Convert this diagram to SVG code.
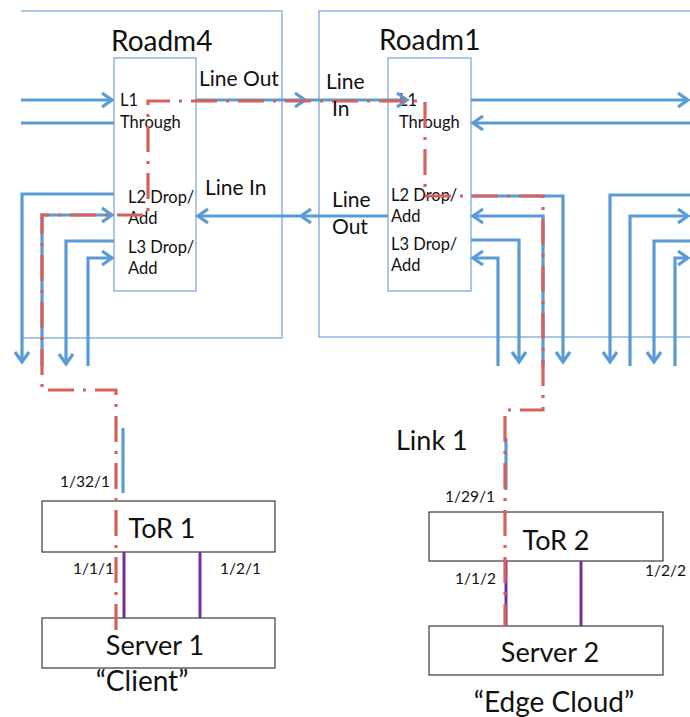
<svg xmlns="http://www.w3.org/2000/svg" width="690" height="717" viewBox="0 0 690 717">
  <style>
    .frame { fill: none; stroke: #8db3e2; stroke-width: 1.5; }
    .card { fill: none; stroke: #7ea8dc; stroke-width: 1.3; }
    .box { fill: #ffffff; stroke: #3a3a3a; stroke-width: 1.2; }
    .fiber { fill: none; stroke: #5b9bd5; stroke-width: 3.2; }
    .head { fill: none; stroke: #5b9bd5; stroke-width: 3.2; stroke-linejoin: miter; }
    .path { fill: none; stroke: #d6605a; stroke-width: 3.2; stroke-dasharray: 26 9 3 9; }
    .eth { fill: none; stroke: #7030a0; stroke-width: 3; }
    text { font-family: Lato, "Open Sans", "Liberation Sans", sans-serif; fill: #111; }
    .title { font-size: 28px; }
    .port { font-size: 21px; }
    .small { font-size: 16.5px; }
    .dev { font-size: 27px; text-anchor: middle; }
    .num { font-size: 15.5px; }
    .caption { font-size: 28px; text-anchor: middle; }
  </style>
  <defs>
    <marker id="arr" markerUnits="userSpaceOnUse" viewBox="-14 -10 16 20" markerWidth="16" markerHeight="20" refX="0" refY="0" orient="auto" overflow="visible">
      <path d="M-10,-7 L0,0 L-10,7" fill="none" stroke="#5b9bd5" stroke-width="3.2"/>
    </marker>
  </defs>

  <!-- ROADM chassis frames -->
  <g id="roadm4">
    <path class="frame" d="M21,11 H282 V338 H21"/>
    <rect class="card" x="114" y="58" width="82" height="233"/>
    <text class="title" x="111" y="51">Roadm4</text>
    <text class="small" x="120" y="106">L1</text>
    <text class="small" x="120" y="128">Through</text>
    <text class="small" x="128" y="203">L2 Drop/</text>
    <text class="small" x="128" y="224">Add</text>
    <text class="small" x="128" y="253">L3 Drop/</text>
    <text class="small" x="128" y="274">Add</text>
  </g>
  <g id="roadm1">
    <path class="frame" d="M692,11 H319 V337 H692"/>
    <rect class="card" x="388" y="58" width="83" height="233"/>
    <text class="title" x="379" y="50">Roadm1</text>
    <text class="small" x="399" y="106">L1</text>
    <text class="small" x="399" y="128">Through</text>
    <text class="small" x="391" y="201">L2 Drop/</text>
    <text class="small" x="391" y="222">Add</text>
    <text class="small" x="391" y="250">L3 Drop/</text>
    <text class="small" x="391" y="271">Add</text>
  </g>

  <!-- ToR switches and servers -->
  <g id="tor1">
    <rect class="box" x="42" y="501" width="233" height="51"/>
    <text class="dev" x="162" y="538">ToR 1</text>
  </g>
  <g id="server1">
    <rect class="box" x="42" y="618" width="233" height="50"/>
    <text class="dev" x="155" y="655">Server 1</text>
  </g>
  <g id="tor2">
    <rect class="box" x="429" y="512" width="234" height="49"/>
    <text class="dev" x="556" y="550">ToR 2</text>
  </g>
  <g id="server2">
    <rect class="box" x="429" y="626" width="234" height="49"/>
    <text class="dev" x="550" y="662">Server 2</text>
  </g>

  <g id="connectors">
    <!-- Roadm4 west side -->
    <path class="fiber" d="M21,100 H112" marker-end="url(#arr)"/>
    <path class="fiber" d="M21,123 H114"/>
    <path class="fiber" d="M114,194 H22 V362" marker-end="url(#arr)"/>
    <path class="fiber" d="M42,366 V215 H112" marker-end="url(#arr)"/>
    <path class="fiber" d="M114,241 H66 V364" marker-end="url(#arr)"/>
    <path class="fiber" d="M88,366 V258 H112" marker-end="url(#arr)"/>

    <!-- span between Roadm4 and Roadm1 -->
    <path class="fiber" d="M196,100 H407" marker-end="url(#arr)"/>
    <path class="head" d="M295,93 L305,100 L295,107"/>
    <path class="fiber" d="M388,216 H198" marker-end="url(#arr)"/>
    <path class="head" d="M311,209 L301,216 L311,223"/>

    <!-- Roadm1 east side -->
    <path class="fiber" d="M471,100 H688" marker-end="url(#arr)"/>
    <path class="fiber" d="M692,123 H473" marker-end="url(#arr)"/>
    <path class="fiber" d="M471,196 H563 V362" marker-end="url(#arr)"/>
    <path class="fiber" d="M543,366 V216 H473" marker-end="url(#arr)"/>
    <path class="fiber" d="M471,240 H519 V362" marker-end="url(#arr)"/>
    <path class="fiber" d="M498,366 V258 H473" marker-end="url(#arr)"/>

    <!-- next degree, further east -->
    <path class="fiber" d="M692,195 H610 V362" marker-end="url(#arr)"/>
    <path class="fiber" d="M630,366 V216 H688" marker-end="url(#arr)"/>
    <path class="fiber" d="M692,241 H654 V362" marker-end="url(#arr)"/>
    <path class="fiber" d="M675,366 V258 H688" marker-end="url(#arr)"/>

    <!-- ToR uplinks -->
    <path class="fiber" d="M123,428 V493"/>
    <path class="fiber" d="M506,438 V490"/>

    <!-- ToR to server links -->
    <path class="eth" d="M124,552 V618"/>
    <path class="eth" d="M200,552 V618"/>
    <path class="eth" d="M506,561 V626"/>
    <path class="eth" d="M581,561 V626"/>

    <!-- end-to-end lightpath, Server 1 to Server 2 -->
    <path class="path" d="M116,630 V390 H42 V215 H148 V101 H425 V196 H543 V410 H505 V626"/>
  </g>

  <!-- port and span labels -->
  <g id="labels">
    <text class="port" x="199" y="86">Line Out</text>
    <text class="port" x="205" y="195">Line In</text>
    <text class="port" x="326" y="89">Line</text>
    <text class="port" x="332" y="116">In</text>
    <text class="port" x="332" y="207">Line</text>
    <text class="port" x="332" y="234">Out</text>
    <text class="num" x="60" y="487">1/32/1</text>
    <text class="num" x="73" y="574">1/1/1</text>
    <text class="num" x="220" y="574">1/2/1</text>
    <text class="num" x="445" y="502">1/29/1</text>
    <text class="num" x="455" y="584">1/1/2</text>
    <text class="num" x="645" y="576">1/2/2</text>
    <text style="font-size:27px" x="396" y="450">Link 1</text>
    <text class="caption" x="142" y="691">“Client”</text>
    <text class="caption" x="554" y="712">“Edge Cloud”</text>
  </g>
</svg>
